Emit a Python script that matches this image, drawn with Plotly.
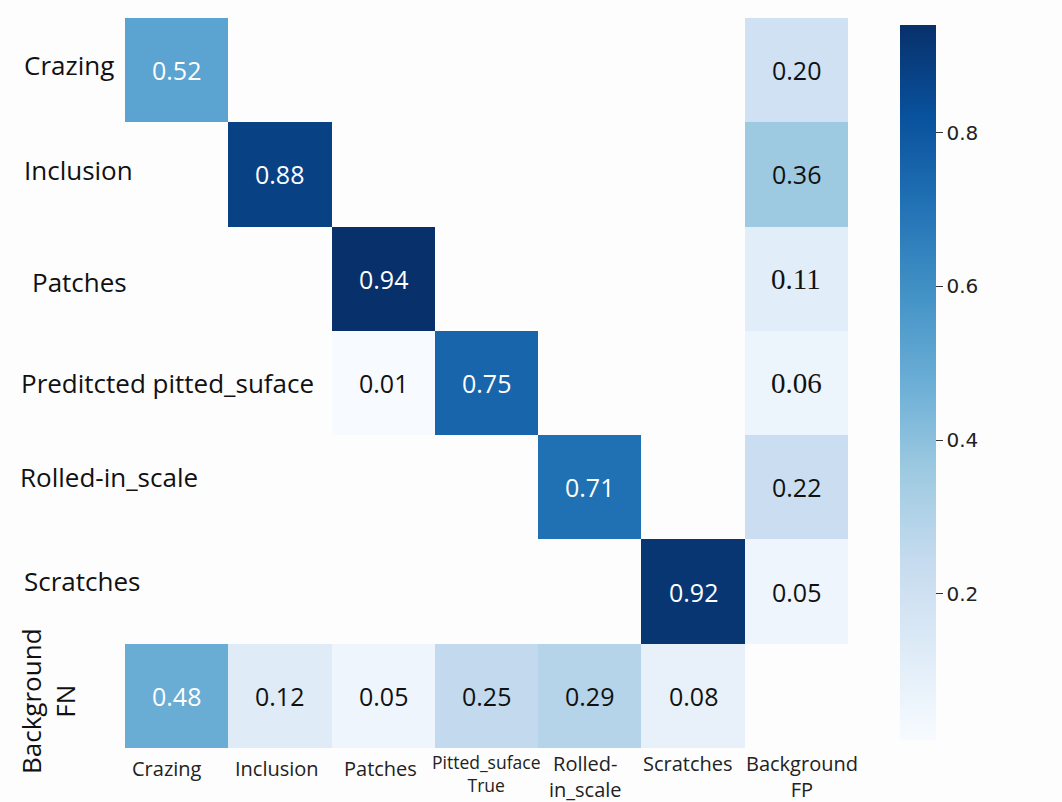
import plotly.graph_objects as go

W, H = 1062, 802

true_labels = ["Crazing", "Inclusion", "Patches", "Pitted_suface", "Rolled-in_scale", "Scratches", "Background FP"]
pred_labels = ["Crazing", "Inclusion", "Patches", "Pitted_suface", "Rolled-in_scale", "Scratches", "Background FN"]

x_tick_text = ["Crazing", "Inclusion", "Patches", "Pitted_suface<br>True", "Rolled-<br>in_scale", "Scratches", "Background<br>FP"]
y_tick_text = ["Crazing", "Inclusion", "Patches", "Preditcted pitted_suface", "Rolled-in_scale", "Scratches"]

row_crazing = [0.52, None, None, None, None, None, 0.20]
row_inclusion = [None, 0.88, None, None, None, None, 0.36]
row_patches = [None, None, 0.94, None, None, None, 0.11]
row_pitted = [None, None, 0.01, 0.75, None, None, 0.06]
row_rolled = [None, None, None, None, 0.71, None, 0.22]
row_scratches = [None, None, None, None, None, 0.92, 0.05]
row_background = [0.48, 0.12, 0.05, 0.25, 0.29, 0.08, None]

z = [row_crazing, row_inclusion, row_patches, row_pitted, row_rolled, row_scratches, row_background]

zmin, zmax = 0.01, 0.94

x0, x1 = 125 / W, 848 / W
y0, y1 = 1 - 748 / H, 1 - 18 / H

fig = go.Figure(go.Heatmap(
    z=z, x=true_labels, y=pred_labels,
    colorscale="Blues", zmin=zmin, zmax=zmax, hoverongaps=False,
    colorbar=dict(
        x=890 / W, xanchor="left", xref="container",
        y=1 - 15 / H, yanchor="top", yref="container",
        len=(750 - 15) / H, lenmode="fraction",
        thickness=36, outlinewidth=0,
        tickvals=[0.2, 0.4, 0.6, 0.8], ticktext=["0.2", "0.4", "0.6", "0.8"],
        ticks="outside", ticklen=7, tickcolor="#333",
        tickfont=dict(family="DejaVu Sans", size=20, color="#222"),
    ),
))

annotations = []
serif_cells = {(2, 6), (3, 6)}
for i, row in enumerate(z):
    for j, v in enumerate(row):
        if v is None:
            continue
        color = "white" if v > 0.45 else "#111"
        fam = "Liberation Serif" if (i, j) in serif_cells else "Open Sans"
        size = 29 if (i, j) in serif_cells else 25
        annotations.append(dict(
            x=true_labels[j], y=pred_labels[i], xref="x", yref="y",
            text=f"{v:.2f}", showarrow=False,
            font=dict(family=fam, size=size, color=color),
        ))

# y labels (left aligned)
y_label_x = [22, 22, 30, 19, 18, 22]
y_label_shift = [5, 4, -3, 0, 10, 11]
for k, t in enumerate(y_tick_text):
    annotations.append(dict(
        x=y_label_x[k] / W, xref="paper", xanchor="left",
        y=pred_labels[k], yref="y", yshift=y_label_shift[k],
        text=t, showarrow=False,
        font=dict(family="Open Sans", size=26, color="#111"),
    ))
annotations.append(dict(
    x=48 / W, xref="paper", xanchor="center",
    y=1 - 701 / H, yref="paper", yanchor="middle",
    text="Background<br>FN", textangle=-90, showarrow=False,
    font=dict(family="Open Sans", size=26, color="#111"),
))

# x labels
x_label_shift = [-10, -3, -3, 0, -4, -5, 6]
x_label_size = [20, 20, 20, 17.5, 20, 20, 20]
for k, t in enumerate(x_tick_text):
    single = "<br>" not in t
    annotations.append(dict(
        x=true_labels[k], xref="x", xshift=x_label_shift[k],
        y=1 - (753 if single and k < 3 else 748) / H, yref="paper", yanchor="top",
        text=t, showarrow=False,
        font=dict(family="Open Sans", size=x_label_size[k], color="#222"),
    ))

fig.update_layout(
    width=W, height=H,
    margin=dict(l=0, r=0, t=0, b=0, autoexpand=False),
    paper_bgcolor="#fdfdfd", plot_bgcolor="#fdfdfd",
    xaxis=dict(domain=[x0, x1], range=[-0.5, 6.5], showticklabels=False, showgrid=False, zeroline=False, ticks=""),
    yaxis=dict(domain=[y0, y1], range=[6.5, -0.5], showticklabels=False, showgrid=False, zeroline=False, ticks=""),
    annotations=annotations,
    showlegend=False,
)

fig.write_html("out.html")
